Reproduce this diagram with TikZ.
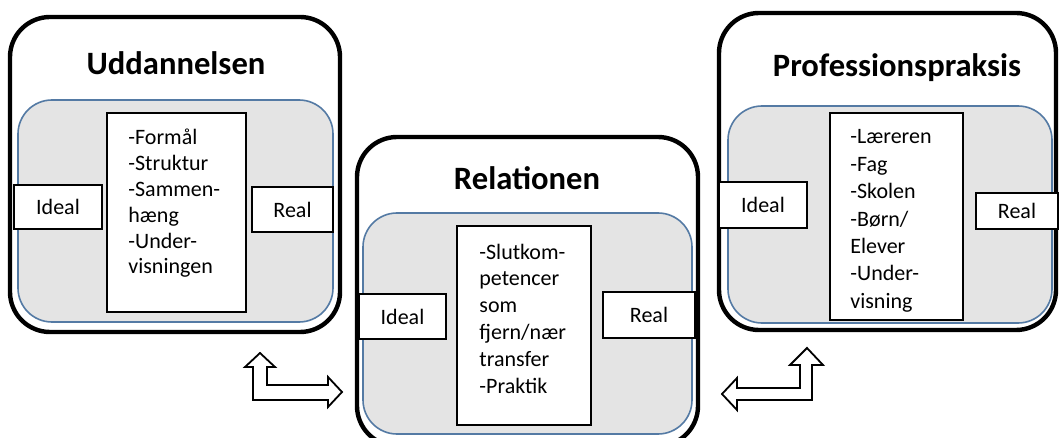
\documentclass[tikz,border=0pt]{standalone}
\usepackage{fontspec}
\setmainfont{Carlito}
\definecolor{innergray}{RGB}{228,228,228}
\definecolor{innerblue}{RGB}{84,122,164}
\tikzset{
 outerbox/.style={draw=black, line width=2.2pt, rounded corners=20pt, fill=white, inner sep=0pt},
 innerbox/.style={draw=innerblue, line width=0.8pt, fill=innergray, rounded corners=17pt, inner sep=0pt},
 listbox/.style={draw=black, line width=0.8pt, fill=white, inner sep=0pt},
 tagbox/.style={draw=black, line width=0.8pt, fill=white, inner sep=0pt, font=\fontsize{11}{13}\selectfont},
 titletext/.style={font=\bfseries\fontsize{16.3}{19}\selectfont, inner sep=0pt, anchor=base},
 listtext/.style={anchor=base west, inner sep=0pt},
 blockarrow/.style={draw=black, line width=0.9pt, fill=white, line join=miter},
}
\newcommand{\listlines}[2]{\parbox[t]{80pt}{\raggedright\fontsize{11}{#1}\selectfont #2}}
\begin{document}
\begin{tikzpicture}[x=0.5pt,y=-0.5pt]
\useasboundingbox (0,0) rectangle (1059,438);
\clip (0,0) rectangle (1059,438);
% ---------- left panel ----------
\node[outerbox, minimum width=165pt, minimum height=157.5pt] (uo) at (175,174.5) {};
\node[innerbox, minimum width=157.5pt, minimum height=111pt] (ui) at (175.5,211) {};
\node[listbox, minimum width=69.5pt, minimum height=99.5pt] (ul) at (176.5,212.5) {};
\node[tagbox, minimum width=44pt, minimum height=22pt] (uideal) at (58,207) {Ideal};
\node[tagbox, minimum width=40.5pt, minimum height=22.5pt] (ureal) at (292.5,209.5) {Real};
\node[titletext] (ut) at (176,75) {Uddannelsen};
\node[listtext] (utx) at (128,145) {\listlines{12.9pt}{-Formål\\-Struktur\\-Sammen-\\hæng\\-Under-\\visningen}};
% ---------- middle panel ----------
\node[outerbox, minimum width=170.5pt, minimum height=154.5pt] (ro) at (527.5,291.5) {};
\node[innerbox, minimum width=164.5pt, minimum height=110.5pt] (ri) at (527.5,323.5) {};
\node[listbox, minimum width=67pt, minimum height=99.5pt] (rl) at (524,325.5) {};
\node[tagbox, minimum width=43.5pt, minimum height=22.5pt] (rideal) at (402.5,316.5) {Ideal};
\node[tagbox, minimum width=46pt, minimum height=23pt] (rreal) at (649,315) {Real};
\node[titletext] (rt) at (527,190) {Relationen};
\node[listtext] (rtx) at (479,259) {\listlines{13.4pt}{-Slutkom-\\petencer\\som\\fjern/nær\\transfer\\-Praktik}};
% ---------- right panel ----------
\node[outerbox, minimum width=168.5pt, minimum height=158.5pt] (po) at (887.5,171.5) {};
\node[innerbox, minimum width=162pt, minimum height=108.5pt] (pi) at (890,214.5) {};
\node[listbox, minimum width=66.5pt, minimum height=103.5pt] (pl) at (896.5,216.5) {};
\node[tagbox, minimum width=44pt, minimum height=23pt] (pideal) at (763,205) {Ideal};
\node[tagbox, minimum width=41pt, minimum height=18pt] (preal) at (1017,211) {Real};
\node[titletext] (pt) at (897,77) {Professionspraksis};
\node[listtext] (ptx) at (850,144) {\listlines{13.7pt}{-Læreren\\-Fag\\-Skolen\\-Børn/\\Elever\\-Under-\\visning}};
% ---------- block arrows ----------
\draw[blockarrow] (260,353) -- (275,367) -- (267,367) -- (267,385) -- (328,385) -- (328,377)
  -- (342,392) -- (328,407) -- (328,400) -- (253,400) -- (253,367) -- (245,367) -- cycle;
\draw[blockarrow] (807,348) -- (823,365) -- (812,365) -- (812,400) -- (737,400) -- (737,410)
  -- (722,394) -- (737,378) -- (737,388) -- (800,388) -- (800,365) -- (790,365) -- cycle;
\end{tikzpicture}
\end{document}
